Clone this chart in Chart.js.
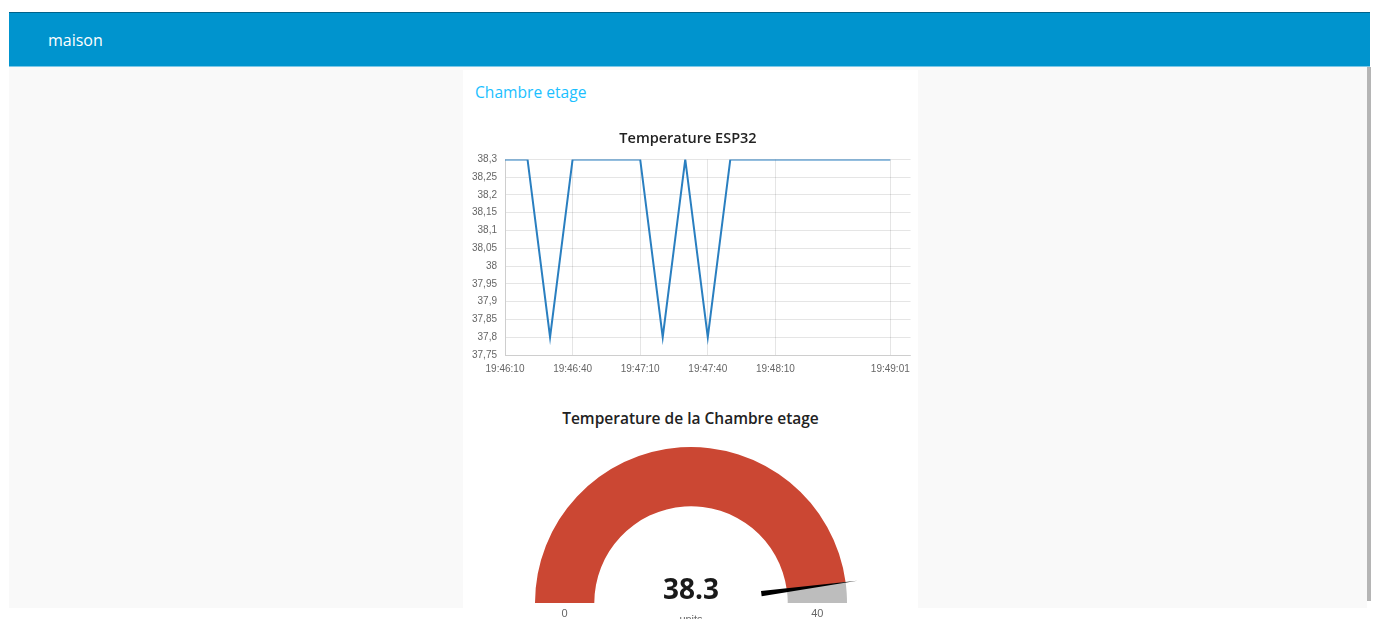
<!DOCTYPE html>
<html><head><meta charset="utf-8">
<script src="https://cdn.jsdelivr.net/npm/chart.js@4.4.1/dist/chart.umd.min.js"></script>
<style>
html,body{margin:0;padding:0;width:1376px;height:619px;overflow:hidden;background:#fff;font-family:"Open Sans","Noto Sans",sans-serif;}
#hdr{position:absolute;left:9px;top:12px;width:1361px;height:54px;background:#0094ce;border-top:1px solid #00628a;box-sizing:border-box;}
#hdr span{position:absolute;left:39px;top:50%;transform:translateY(-50%);color:#fff;font-size:16px;}
#hdrline{position:absolute;left:9px;top:66px;width:1361px;height:1px;background:#7cc8e8;}
#main{position:absolute;left:9px;top:67px;width:1358px;height:541px;background:#f9f9f9;}
#scroll{position:absolute;left:1367px;top:67px;width:4px;height:534px;background:#b5b5b5;}
#card{position:absolute;left:463px;top:70px;width:455px;height:560px;background:#fff;}
#grp{position:absolute;left:475px;top:81px;color:#1bbfff;font-size:15.6px;line-height:22px;}
#lineWrap{position:absolute;left:463px;top:121px;width:455px;height:260px;}
#gaugeWrap{position:absolute;left:519px;top:431px;width:344px;height:188px;}
#gTitle{position:absolute;left:463px;top:407px;width:455px;text-align:center;font-size:15.5px;font-weight:600;color:#222;line-height:22px;}
.gl{position:absolute;font-family:"Liberation Sans",Arial,sans-serif;color:#666;font-size:11px;line-height:12px;text-align:center;width:60px;}
#gVal{position:absolute;left:611px;top:569px;width:160px;text-align:center;font-size:28px;font-weight:700;color:#1a1a1a;line-height:38px;}
</style></head>
<body>
<div id="hdr"><span>maison</span></div>
<div id="hdrline"></div>
<div id="main"></div>
<div id="scroll"></div>
<div id="card"></div>
<div id="grp">Chambre etage</div>
<div id="lineWrap"><canvas id="lineChart" width="455" height="260"></canvas></div>
<div id="gTitle">Temperature de la Chambre etage</div>
<div id="gaugeWrap"><canvas id="gaugeChart" width="344" height="188"></canvas></div>
<div id="gVal"></div>
<div class="gl" id="gMin"></div>
<div class="gl" id="gMax"></div>
<div class="gl" id="gUnit"></div>
<script>
// ---- data ----
const lineTitle = 'Temperature ESP32';
const sampleTimes = ['19:46:10','19:46:20','19:46:30','19:46:40','19:46:50','19:47:00','19:47:10','19:47:20','19:47:30','19:47:40','19:47:50','19:48:00','19:48:10','19:48:20','19:48:30','19:48:40','19:48:50','19:49:01'];
const temperatures = [38.3,38.3,37.8,38.3,38.3,38.3,38.3,37.8,38.3,37.8,38.3,38.3,38.3,38.3,38.3,38.3,38.3,38.3];
const xTickLabels = ['19:46:10','19:46:40','19:47:10','19:47:40','19:48:10','19:49:01'];
const xRangeEnd = '19:49:10';
const yTicks = [37.75,37.8,37.85,37.9,37.95,38,38.05,38.1,38.15,38.2,38.25,38.3];

const gaugeTitle = 'Temperature de la Chambre etage';
const gaugeValue = 38.3;
const gaugeMin = 0;
const gaugeMax = 40;
const gaugeUnits = 'units';

// ---- helpers ----
function toSec(t){const p=t.split(':').map(Number);return p[0]*3600+p[1]*60+p[2];}
const t0 = toSec(sampleTimes[0]);
const points = sampleTimes.map((t,i)=>({x:toSec(t)-t0,y:temperatures[i]}));
const xTickVals = xTickLabels.map(t=>toSec(t)-t0);
const labelFor = {}; xTickLabels.forEach((t,i)=>labelFor[xTickVals[i]]=t);
const fmt = v => String(Number(v.toFixed(2))).replace('.',',');
const gridC = 'rgba(0,0,0,0.1)';
const tickFont = {family:'"Liberation Sans", Arial, sans-serif', size:10};

new Chart(document.getElementById('lineChart'), {
  type:'line',
  data:{datasets:[{data:points,borderColor:'#2a7fc0',borderWidth:2,pointRadius:0,tension:0,fill:false}]},
  options:{
    responsive:false,animation:false,events:[],
    layout:{padding:{left:0,right:5,top:0,bottom:0}},
    plugins:{legend:{display:false},tooltip:{enabled:false},
      title:{display:true,text:lineTitle,color:'#222',font:{family:'"Open Sans", sans-serif',size:14.5,weight:'600'},padding:{top:9,bottom:12}}},
    scales:{
      x:{type:'linear',min:0,max:toSec(xRangeEnd)-t0,
        afterBuildTicks:s=>{s.ticks=xTickVals.map(v=>({value:v}));},
        afterFit:s=>{s.height=26;},
        grid:{color:gridC,drawTicks:false},border:{color:gridC},
        ticks:{padding:8,color:'#666',font:tickFont,maxRotation:0,autoSkip:false,callback:v=>labelFor[v]}},
      y:{min:yTicks[0],max:yTicks[yTicks.length-1],
        afterBuildTicks:s=>{s.ticks=yTicks.map(v=>({value:v}));},
        afterFit:s=>{s.width=42;},
        grid:{color:gridC,drawTicks:false},border:{color:gridC},
        ticks:{padding:8,color:'#666',font:tickFont,autoSkip:false,callback:v=>fmt(v)}}
    }
  }
});

const needlePlugin = {
  id:'needle',
  afterDatasetsDraw(chart){
    const arc = chart.getDatasetMeta(0).data[0];
    const {x,y,outerRadius,endAngle} = arc.getProps(['x','y','outerRadius','endAngle'],true);
    const ctx = chart.ctx;
    const r0 = outerRadius*0.455, r1 = outerRadius*1.075, hw = 2.6;
    const c = Math.cos(endAngle), s = Math.sin(endAngle);
    const bx = x + c*r0, by = y + s*r0;
    ctx.save();
    ctx.fillStyle = '#000';
    ctx.beginPath();
    ctx.moveTo(bx - s*hw, by + c*hw);
    ctx.lineTo(bx + s*hw, by - c*hw);
    ctx.lineTo(x + c*r1, y + s*r1);
    ctx.closePath();
    ctx.fill();
    ctx.restore();
    const mid = (outerRadius + arc.innerRadius)/2;
    const cv = chart.canvas.getBoundingClientRect();
    const cx = cv.left + x, cy = cv.top + y;
    const gMin = document.getElementById('gMin'), gMax = document.getElementById('gMax'), gUnit = document.getElementById('gUnit');
    gMin.style.left = (cx - mid - 30) + 'px'; gMin.style.top = (cy + 4) + 'px';
    gMax.style.left = (cx + mid - 30) + 'px'; gMax.style.top = (cy + 4) + 'px';
    gUnit.style.left = (cx - 30) + 'px'; gUnit.style.top = (cy + 10) + 'px';
  }
};

document.getElementById('gTitle').textContent = gaugeTitle;
document.getElementById('gVal').textContent = String(gaugeValue);
document.getElementById('gMin').textContent = String(gaugeMin);
document.getElementById('gMax').textContent = String(gaugeMax);
document.getElementById('gUnit').textContent = gaugeUnits;

new Chart(document.getElementById('gaugeChart'), {
  type:'doughnut',
  data:{datasets:[{data:[gaugeValue-gaugeMin, gaugeMax-gaugeValue],backgroundColor:['#cb4733','#bdbdbd'],borderWidth:0}]},
  options:{
    responsive:false,animation:false,events:[],
    rotation:-90,circumference:180,cutout:'62%',
    layout:{padding:{left:16,right:16,top:16,bottom:16}},
    plugins:{legend:{display:false},tooltip:{enabled:false}}
  },
  plugins:[needlePlugin]
});
</script>
</body></html>
